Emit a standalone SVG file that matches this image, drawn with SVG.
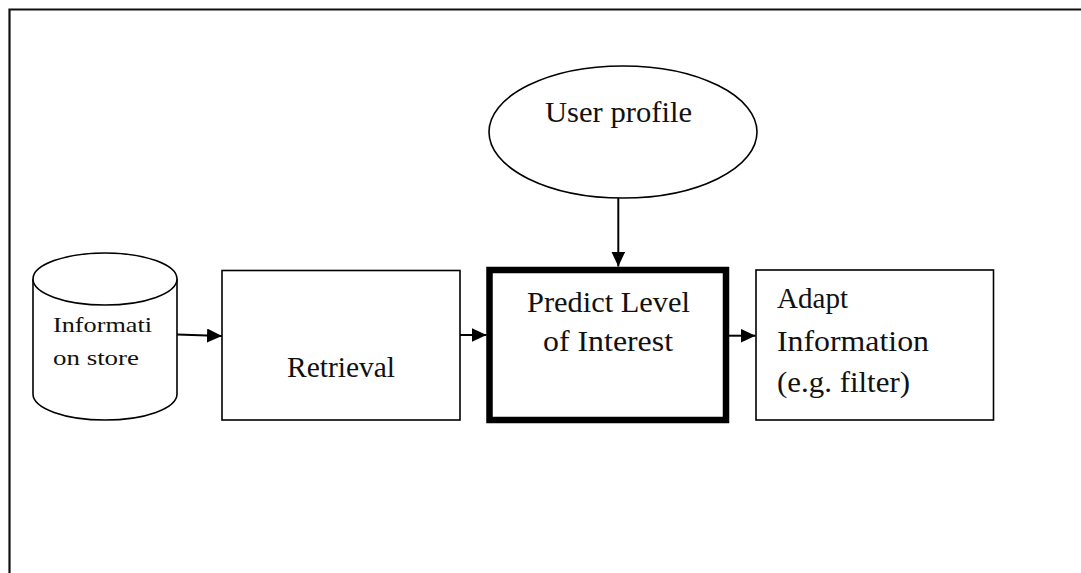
<svg xmlns="http://www.w3.org/2000/svg" width="1081" height="573" viewBox="0 0 1081 573">
  <style>
    .shape { fill: #ffffff; stroke: #000000; stroke-width: 1.6; }
    .bold { fill: #ffffff; stroke: #000000; stroke-width: 6.5; }
    .lbl { font-family: "Liberation Serif", "Times New Roman", serif; fill: #111111; }
    .wire { stroke: #000000; stroke-width: 2; fill: none; marker-end: url(#head); }
  </style>
  <defs>
    <marker id="head" markerUnits="userSpaceOnUse" markerWidth="15" markerHeight="14" refX="15" refY="7" orient="auto">
      <path d="M0,0 L15,7 L0,14 Z" fill="#000000"/>
    </marker>
  </defs>

  <rect width="1081" height="573" fill="#ffffff"/>

  <!-- page frame (top and left edges) -->
  <path d="M9.5,573 V9.5 H1081" fill="none" stroke="#111111" stroke-width="2.2"/>

  <g id="info-store">
    <path class="shape" d="M33,279 V394 A72,26 0 0 0 177,394 V279 A72,26 0 0 0 33,279 Z"/>
    <path class="shape" d="M33,279 A72,26 0 0 0 177,279" fill="none"/>
    <text class="lbl" x="53" y="332" font-size="22" textLength="99" lengthAdjust="spacingAndGlyphs">Informati</text>
    <text class="lbl" x="53" y="365" font-size="22" textLength="86" lengthAdjust="spacingAndGlyphs">on store</text>
  </g>

  <g id="retrieval">
    <rect class="shape" x="222" y="270.5" width="238" height="149.5"/>
    <text class="lbl" x="287" y="377" font-size="29.5" textLength="108" lengthAdjust="spacingAndGlyphs">Retrieval</text>
  </g>

  <g id="user-profile">
    <ellipse class="shape" cx="623" cy="132" rx="134" ry="66"/>
    <text class="lbl" x="545" y="122" font-size="29.5" textLength="147" lengthAdjust="spacingAndGlyphs">User profile</text>
  </g>

  <g id="predict">
    <rect class="bold" x="489.5" y="270" width="236.5" height="150"/>
    <text class="lbl" x="527" y="312" font-size="29.5" textLength="163" lengthAdjust="spacingAndGlyphs">Predict Level</text>
    <text class="lbl" x="543" y="351" font-size="29.5" textLength="130" lengthAdjust="spacingAndGlyphs">of Interest</text>
  </g>

  <g id="adapt">
    <rect class="shape" x="756" y="270" width="237.5" height="150"/>
    <text class="lbl" x="777" y="308" font-size="29.5" textLength="71" lengthAdjust="spacingAndGlyphs">Adapt</text>
    <text class="lbl" x="777" y="351" font-size="29.5" textLength="152" lengthAdjust="spacingAndGlyphs">Information</text>
    <text class="lbl" x="777" y="392" font-size="29.5" textLength="133" lengthAdjust="spacingAndGlyphs">(e.g. filter)</text>
  </g>

  <g id="connectors">
    <path class="wire" d="M177,334.5 L222,336"/>
    <path class="wire" d="M460,335 H486.5"/>
    <path class="wire" d="M729,335.7 H755.5"/>
    <path class="wire" d="M618.3,198 V266.5"/>
  </g>
</svg>
